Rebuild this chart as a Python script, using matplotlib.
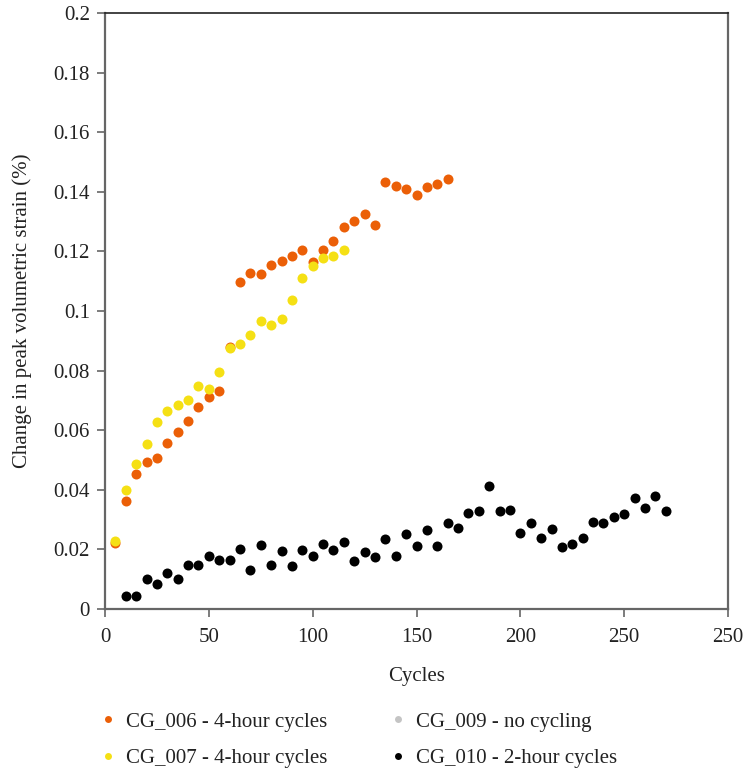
import numpy as np
import matplotlib
matplotlib.use("Agg")
from matplotlib import pyplot as plt
from matplotlib.lines import Line2D

plt.rcParams['font.family'] = ['Liberation Serif', 'DejaVu Serif']

# CG_006 - 4-hour cycles
cycles_006 = [5, 10, 15, 20, 25, 30, 35, 40, 45, 50, 55, 60, 65, 70, 75, 80, 85,
              90, 95, 100, 105, 110, 115, 120, 125, 130, 135, 140, 145, 150, 155, 160, 165]
strain_006 = [0.0220, 0.0361, 0.0453, 0.0494, 0.0508, 0.0557, 0.0594, 0.0631, 0.0679,
              0.0712, 0.0732, 0.0880, 0.1098, 0.1128, 0.1125, 0.1154, 0.1167, 0.1183,
              0.1205, 0.1166, 0.1204, 0.1235, 0.1281, 0.1302, 0.1327, 0.1288, 0.1433,
              0.1419, 0.1409, 0.1390, 0.1415, 0.1426, 0.1442]

# CG_007 - 4-hour cycles
cycles_007 = [5, 10, 15, 20, 25, 30, 35, 40, 45, 50, 55, 60, 65, 70, 75, 80, 85,
              90, 95, 100, 105, 110, 115]
strain_007 = [0.0229, 0.0400, 0.0486, 0.0554, 0.0628, 0.0664, 0.0686, 0.0700, 0.0747,
              0.0738, 0.0796, 0.0875, 0.0890, 0.0920, 0.0966, 0.0954, 0.0972, 0.1038,
              0.1111, 0.1150, 0.1178, 0.1185, 0.1206]

# CG_009 - no cycling (no readings shown)
cycles_009 = []
strain_009 = []

# CG_010 - 2-hour cycles
cycles_010 = [10, 15, 20, 25, 30, 35, 40, 45, 50, 55, 60, 65, 70, 75, 80, 85, 90,
              95, 100, 105, 110, 115, 120, 125, 130, 135, 140, 145, 150, 155, 160,
              165, 170, 175, 180, 185, 190, 195, 200, 205, 210, 215, 220, 225, 230,
              235, 240, 245, 250, 255, 260, 265, 270]
strain_010 = [0.0045, 0.0043, 0.0101, 0.0085, 0.0120, 0.0101, 0.0149, 0.0149, 0.0178,
              0.0163, 0.0166, 0.0202, 0.0130, 0.0214, 0.0147, 0.0196, 0.0144, 0.0198,
              0.0179, 0.0217, 0.0198, 0.0225, 0.0161, 0.0191, 0.0173, 0.0234, 0.0178,
              0.0252, 0.0212, 0.0264, 0.0211, 0.0290, 0.0272, 0.0321, 0.0328, 0.0412,
              0.0330, 0.0332, 0.0256, 0.0290, 0.0239, 0.0267, 0.0207, 0.0219, 0.0237,
              0.0293, 0.0290, 0.0309, 0.0318, 0.0372, 0.0339, 0.0378, 0.0330]

x_ticks = [0, 50, 100, 150, 200, 250, 300]
x_tick_labels = ['0', '50', '100', '150', '200', '250', '250']
y_ticks = [0, 0.02, 0.04, 0.06, 0.08, 0.1, 0.12, 0.14, 0.16, 0.18, 0.2]

c_006 = '#EB5F07'
c_007 = '#F5E014'
c_009 = '#C4C4C4'
c_010 = '#000000'

fs = 15

fig = plt.figure(figsize=(7.46, 7.74), dpi=100)
ax = fig.add_axes([0.1408, 0.2132, 0.8351, 0.77])

ms = 52
ax.scatter(cycles_010, strain_010, s=ms, color=c_010, linewidths=0, zorder=3)
ax.scatter(cycles_009, strain_009, s=ms, color=c_009, linewidths=0, zorder=3)
ax.scatter(cycles_006, strain_006, s=ms, color=c_006, linewidths=0, zorder=3)
ax.scatter(cycles_007, strain_007, s=ms, color=c_007, linewidths=0, zorder=4)

ax.set_xlim(0, 300)
ax.set_ylim(0, 0.2)
ax.set_xticks(x_ticks)
ax.set_xticklabels(x_tick_labels)
ax.set_yticks(y_ticks)
ax.set_yticklabels(['%g' % v for v in y_ticks])

for side in ['left', 'bottom', 'right']:
    ax.spines[side].set_color('#666666')
    ax.spines[side].set_linewidth(1.6)
ax.spines['top'].set_color('#222222')
ax.spines['top'].set_linewidth(1.2)

ax.tick_params(axis='both', direction='out', length=6, width=1.2, color='#666666',
               labelsize=fs, labelcolor='#222222', pad=5)
ax.tick_params(axis='x', pad=8)

ax.set_xlabel('Cycles', fontsize=fs, color='#222222', labelpad=14)
ax.set_ylabel('Change in peak volumetric strain (%)', fontsize=fs, color='#222222',
              labelpad=15)

handles = [
    Line2D([], [], linestyle='none', marker='o', markersize=5, color=c_006, markeredgewidth=0),
    Line2D([], [], linestyle='none', marker='o', markersize=5, color=c_007, markeredgewidth=0),
    Line2D([], [], linestyle='none', marker='o', markersize=5, color=c_009, markeredgewidth=0),
    Line2D([], [], linestyle='none', marker='o', markersize=5, color=c_010, markeredgewidth=0),
]
labels = ['CG_006 - 4-hour cycles', 'CG_007 - 4-hour cycles',
          'CG_009 - no cycling', 'CG_010 - 2-hour cycles']
fig.legend(handles, labels, ncol=2, loc='upper left', bbox_to_anchor=(0.137, 0.08),
           frameon=False, fontsize=fs, handlelength=0.6, handletextpad=0.55,
           columnspacing=3.1, labelspacing=0.82, borderaxespad=0, borderpad=0,
           labelcolor='#222222')

plt.savefig('out.png', dpi=100)
